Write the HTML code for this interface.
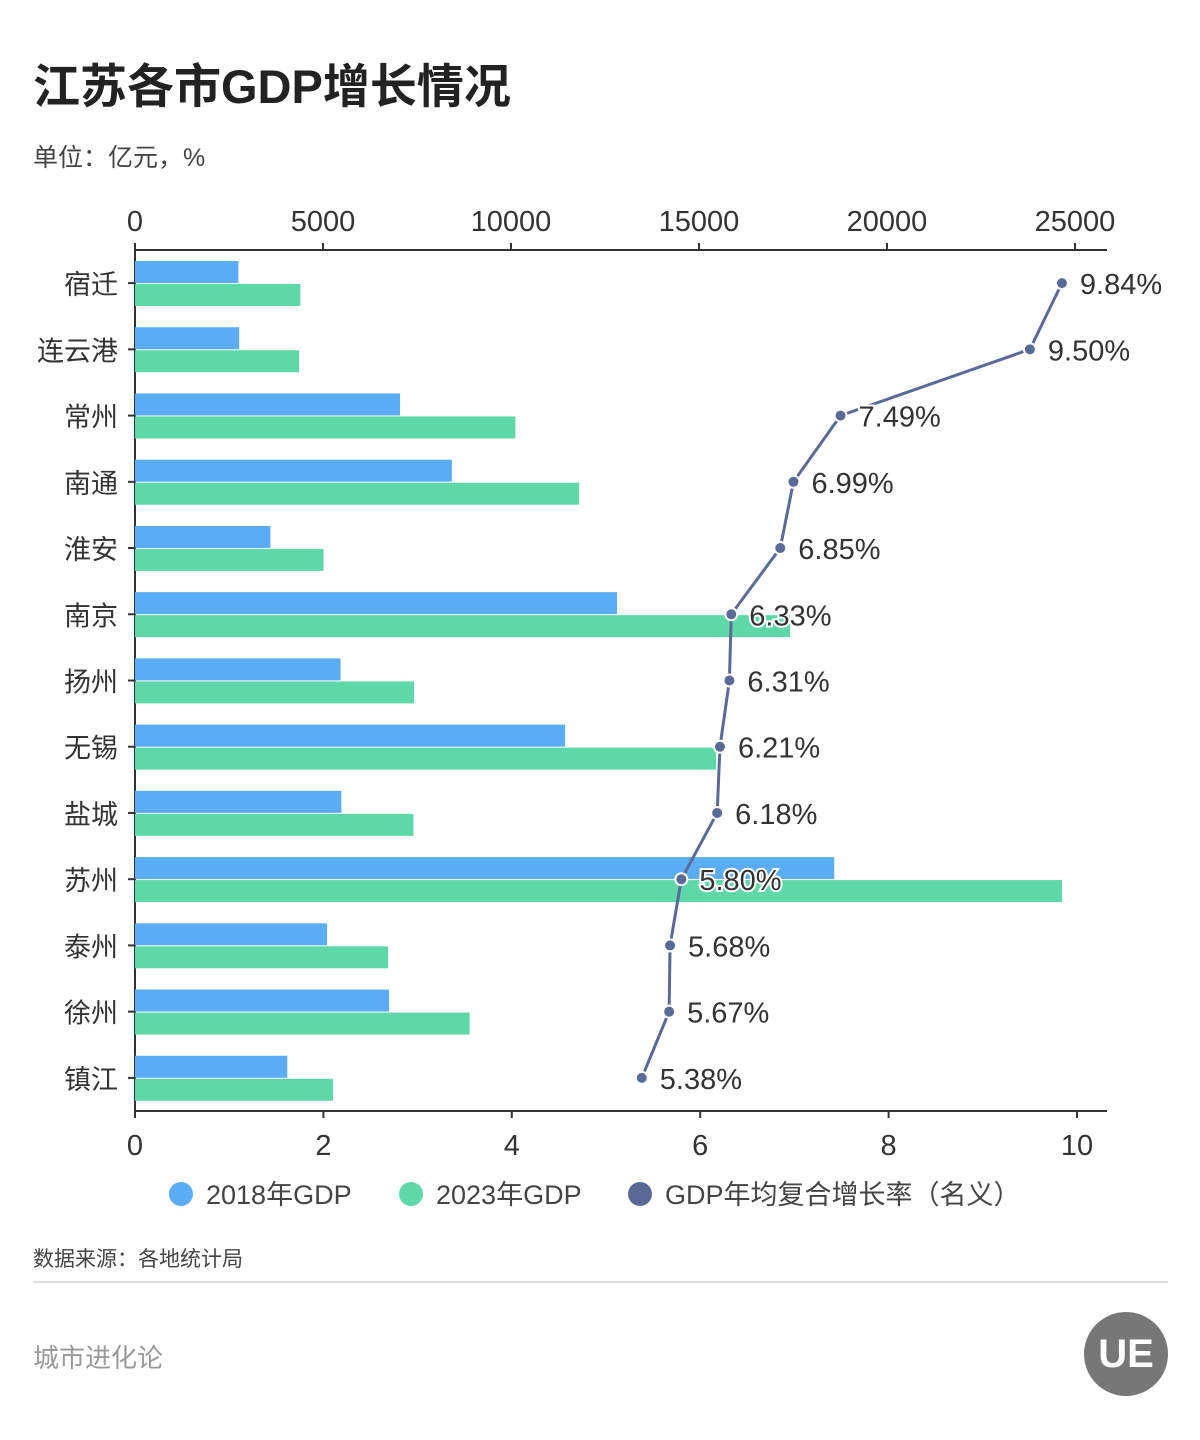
<!DOCTYPE html>
<html><head><meta charset="utf-8">
<style>
html,body{margin:0;padding:0;background:#fff;}
body{width:1200px;height:1440px;position:relative;overflow:hidden;font-family:"Liberation Sans","Noto Sans CJK SC",sans-serif;}
.t{position:absolute;white-space:nowrap;}
</style></head>
<body>
<div class="t" style="left:33px;top:48px;font-size:47px;font-weight:bold;color:#222;">江苏各市GDP增长情况</div>
<div class="t" style="left:33px;top:138px;font-size:25px;color:#444;">单位：亿元，%</div>
<svg id="chart" width="1200" height="1240" style="position:absolute;left:0;top:0;"></svg>
<div class="t" style="left:33px;top:1243px;font-size:21px;color:#444;">数据来源：各地统计局</div>
<div style="position:absolute;left:33px;top:1281px;width:1135px;height:2px;background:#ddd;"></div>
<div class="t" style="left:33px;top:1338px;font-size:26px;color:#999;">城市进化论</div>
<div style="position:absolute;left:1084px;top:1312px;width:84px;height:84px;border-radius:50%;background:#777;color:#fff;font-size:40px;font-weight:bold;text-align:center;line-height:84px;">UE</div>
<script>
const cities=["宿迁","连云港","常州","南通","淮安","南京","扬州","无锡","盐城","苏州","泰州","徐州","镇江"];
const gdp2018=[2750,2771,7050,8427,3601,12820,5466,11439,5487,18597,5108,6755,4050];
const gdp2023=[4398,4364,10116,11813,5015,17421,7423,15456,7404,24653,6731,8900,5264];
const growth=[9.84,9.50,7.49,6.99,6.85,6.33,6.31,6.21,6.18,5.80,5.68,5.67,5.38];
const gdpTicks=[0,5000,10000,15000,20000,25000];
const rateTicks=[0,2,4,6,8,10];
const L=135,T=250,B=1111,R=1107,band=(B-T)/cities.length;
const xG=v=>L+v*(1075-L)/25000;
const xR=v=>L+v*(1077-L)/10;
const yRow=i=>T+band*i;
const svg=document.getElementById('chart');
const NS='http://www.w3.org/2000/svg';
function mk(tag,a,parent){const e=document.createElementNS(NS,tag);for(const k in a)e.setAttribute(k,a[k]);(parent||svg).appendChild(e);return e;}
let ax=mk('line',{x1:L,y1:T,x2:R,y2:T,stroke:'#333','stroke-width':2});

ax=mk('line',{x1:L,y1:B,x2:R,y2:B,stroke:'#333','stroke-width':2});

ax=mk('line',{x1:L,y1:T,x2:L,y2:B,stroke:'#333','stroke-width':2});

gdpTicks.forEach(v=>{
  mk('line',{x1:xG(v),y1:T,x2:xG(v),y2:T-7,stroke:'#333','stroke-width':2});
  const t=mk('text',{x:xG(v),y:T-19,'text-anchor':'middle','font-size':29,fill:'#333'});
  t.textContent=v;
  
  
});
rateTicks.forEach(v=>{
  mk('line',{x1:xR(v),y1:B,x2:xR(v),y2:B+7,stroke:'#333','stroke-width':2});
  const t=mk('text',{x:xR(v),y:B+44,'text-anchor':'middle','font-size':29,fill:'#333'});
  t.textContent=v;
  
  
});
cities.forEach((c,i)=>{
  const y=yRow(i);
  mk('line',{x1:L,y1:y+band/2,x2:L-7,y2:y+band/2,stroke:'#333','stroke-width':2});
  const t=mk('text',{x:L-17,y:y+band/2+11,'text-anchor':'end','font-size':27,fill:'#333'});
  t.textContent=c;
  
  
  const b1=mk('rect',{x:L,y:y+11,width:xG(gdp2018[i])-L,height:22,fill:'#5aacf5'});
  
  
  const b2=mk('rect',{x:L,y:y+34,width:xG(gdp2023[i])-L,height:22,fill:'#5ed8a8'});
  
  
});
const pts=growth.map((g,i)=>[xR(g),yRow(i)+band/2]);
const line=mk('polyline',{points:pts.map(p=>p.join(',')).join(' '),fill:'none',stroke:'#5a6a96','stroke-width':3});


pts.forEach((p,i)=>{
  const c=mk('circle',{cx:p[0],cy:p[1],r:6,fill:'#5a6a96',stroke:'#fff','stroke-width':2});
  
  
  const t=mk('text',{x:p[0]+18,y:p[1]+11,'font-size':29,fill:'#333',stroke:'#fff','stroke-width':4,'paint-order':'stroke'});
  t.textContent=growth[i].toFixed(2)+'%';
  
  
});
const leg=[['2018年GDP','#5aacf5',181],['2023年GDP','#5ed8a8',411],['GDP年均复合增长率（名义）','#5a6a96',640]];
leg.forEach(l=>{
  const g=mk('g',{});
  
  
  mk('circle',{cx:l[2],cy:1194,r:12,fill:l[1]},g);
  const t=mk('text',{x:l[2]+25,y:1204,'font-size':27,fill:'#444'},g);
  t.textContent=l[0];
});
</script>
</body></html>
